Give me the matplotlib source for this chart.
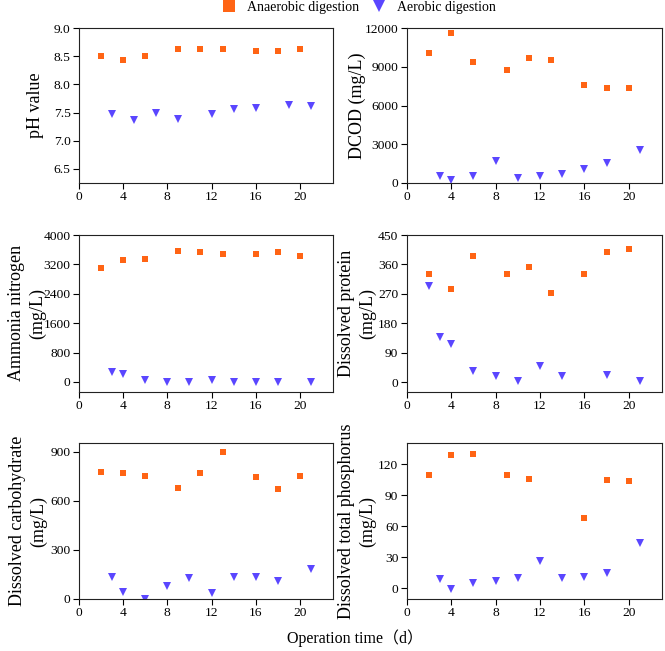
import numpy as np
import matplotlib.pyplot as plt

plt.rcParams['font.family'] = ['Liberation Serif', 'Noto Sans CJK SC']
plt.rcParams['axes.linewidth'] = 0.8

# anaerobic / aerobic sampling days
t_an = [2, 4, 6, 9, 11, 13, 16, 18, 20]
t_an_p = [2, 4, 6, 9, 11, 16, 18, 20]
t_ae_ph = [3, 5, 7, 9, 12, 14, 16, 19, 21]
t_ae = [3, 4, 6, 8, 10, 12, 14, 16, 18, 21]
t_ae_prot = [2, 3, 4, 6, 8, 10, 12, 14, 18, 21]

ph_an = [8.50, 8.44, 8.50, 8.63, 8.63, 8.63, 8.60, 8.60, 8.63]
ph_ae = [7.48, 7.37, 7.50, 7.38, 7.48, 7.57, 7.58, 7.63, 7.62]
dcod_an = [10100, 11600, 9350, 8780, 9650, 9530, 7570, 7390, 7390]
dcod_ae = [515, 260, 515, 1700, 410, 540, 670, 1080, 1520, 2550]
nh_an = [3110, 3320, 3360, 3560, 3540, 3490, 3490, 3540, 3430]
nh_ae = [270, 220, 45, 0, 0, 45, 0, -5, -5, 10]
prot_an = [330, 286, 386, 330, 353, 274, 331, 397, 408]
prot_ae = [295, 139, 118, 35, 18, 5, 49, 18, 23, 5]
carb_an = [778, 770, 749, 676, 770, 900, 743, 674, 753]
carb_ae = [136, 43, 0, 81, 128, 37, 136, 136, 110, 185]
tp_an = [109, 128.4, 129.3, 109, 105.9, 67.9, 104.2, 103.3]
tp_ae = [8.7, -0.5, 4.8, 7.1, 9.7, 26, 9.7, 10.9, 14.5, 44]

orange = '#FF6414'
blue = '#5A46FF'

fig = plt.figure(figsize=(6.65, 6.51), dpi=100)

lefts = [0.1188, 0.6116]
widths = [0.382, 0.384]
bottoms = [0.7189, 0.3983, 0.0799]
heights = [0.238, 0.2407, 0.239]

panels = [
    (t_an, ph_an, t_ae_ph, ph_ae, 'pH value', (6.25, 9.0), np.arange(6.5, 9.01, 0.5), -0.138),
    (t_an, dcod_an, t_ae, dcod_ae, 'DCOD (mg/L)', (0, 12000), np.arange(0, 12001, 3000), -0.159),
    (t_an, nh_an, t_ae, nh_ae, 'Ammonia nitrogen\n(mg/L)', (-265, 4000), np.arange(0, 4001, 800), -0.13),
    (t_an, prot_an, t_ae_prot, prot_ae, 'Dissolved protein\n(mg/L)', (-29, 450), np.arange(0, 451, 90), -0.12),
    (t_an, carb_an, t_ae, carb_ae, 'Dissolved carbohydrate\n(mg/L)', (0, 950), np.arange(0, 901, 300), -0.126),
    (t_an_p, tp_an, t_ae, tp_ae, 'Dissolved total phosphorus\n(mg/L)', (-10.6, 140), np.arange(0, 121, 30), -0.12),
]

for i, (xa, ya, xb, yb, lab, ylim, yt, lx) in enumerate(panels):
    r, c = divmod(i, 2)
    ax = fig.add_axes([lefts[c], bottoms[r], widths[c], heights[r]])
    ax.plot(xa, ya, 's', c=orange, ms=4.2, mew=0)
    ax.plot(xb, yb, 'v', c=blue, ms=5.2, mew=0)
    ax.set_xlim(0, 23)
    ax.set_ylim(*ylim)
    ax.set_xticks(np.arange(0, 21, 4))
    ax.set_yticks(yt)
    if i == 0:
        ax.set_yticklabels(['%.1f' % v for v in yt])
    ax.tick_params(direction='out', length=4, width=0.8, labelsize=9.7, pad=2,
                   top=False, right=False)
    for s in ax.spines.values():
        s.set_color('#222222')
    ax.set_ylabel(lab, fontsize=13, linespacing=1.3)
    ax.yaxis.set_label_coords(lx, 0.5)

# legend across the top
h1, = plt.plot([], [], 's', c=orange, ms=8, mew=0)
h2, = plt.plot([], [], 'v', c=blue, ms=9, mew=0)
fig.legend([h1, h2], ['Anaerobic digestion', 'Aerobic digestion'], loc='center',
           bbox_to_anchor=(0.54, 0.988), ncol=2, frameon=False, fontsize=10,
           handlelength=1.0, handletextpad=0.8, columnspacing=0.9, borderpad=0)

fig.text(0.534, 0.02, 'Operation time（d）', ha='center', va='center', fontsize=11.5)

plt.savefig('out.png', dpi=100)
